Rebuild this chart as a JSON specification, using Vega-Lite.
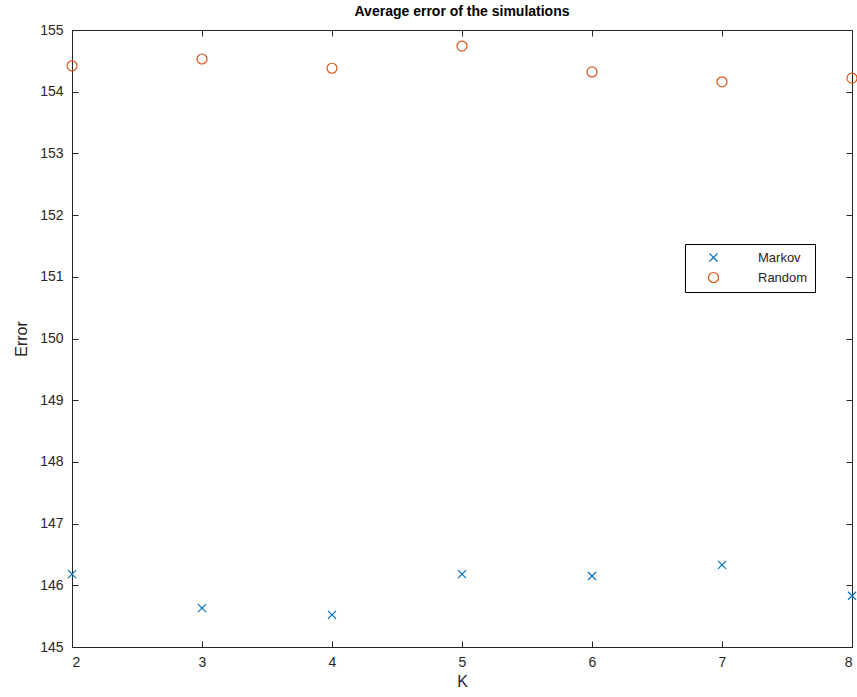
{
  "$schema": "https://vega.github.io/schema/vega-lite/v6.json",
  "autosize": {"type": "none"},
  "width": 780,
  "height": 617,
  "padding": {"left": 72, "top": 30, "right": 5, "bottom": 50},
  "background": "white",
  "config": {
    "font": "Liberation Sans",
    "view": {"stroke": "#262626", "strokeWidth": 1}
  },
  "title": {
    "text": "Average error of the simulations",
    "fontSize": 14,
    "fontWeight": "bold",
    "font": "Liberation Sans",
    "color": "black",
    "offset": 4
  },
  "data": {
    "values": [
      {"K": 2, "Error": 146.18, "Series": "Markov"},
      {"K": 3, "Error": 145.63, "Series": "Markov"},
      {"K": 4, "Error": 145.52, "Series": "Markov"},
      {"K": 5, "Error": 146.18, "Series": "Markov"},
      {"K": 6, "Error": 146.15, "Series": "Markov"},
      {"K": 7, "Error": 146.33, "Series": "Markov"},
      {"K": 8, "Error": 145.83, "Series": "Markov"},
      {"K": 2, "Error": 154.42, "Series": "Random"},
      {"K": 3, "Error": 154.53, "Series": "Random"},
      {"K": 4, "Error": 154.38, "Series": "Random"},
      {"K": 5, "Error": 154.74, "Series": "Random"},
      {"K": 6, "Error": 154.32, "Series": "Random"},
      {"K": 7, "Error": 154.16, "Series": "Random"},
      {"K": 8, "Error": 154.22, "Series": "Random"}
    ]
  },
  "layer": [
    {
      "mark": {"type": "point", "opacity": 0},
      "encoding": {
        "x": {
          "field": "K", "type": "quantitative",
          "scale": {"domain": [2, 8], "nice": false, "zero": false},
          "axis": {
            "orient": "top", "offset": -617, "values": [2, 3, 4, 5, 6, 7, 8], "grid": false, "labels": false, "title": null,
            "domain": false, "tickColor": "#262626", "tickSize": 6, "tickWidth": 1
          }
        },
        "y": {
          "field": "Error", "type": "quantitative",
          "scale": {"domain": [145, 155], "nice": false, "zero": false},
          "axis": {
            "orient": "right", "offset": -780, "values": [145, 146, 147, 148, 149, 150, 151, 152, 153, 154, 155], "grid": false, "labels": false, "title": null,
            "domain": false, "tickColor": "#262626", "tickSize": 6, "tickWidth": 1
          }
        }
      }
    },
    {
      "mark": {"type": "point", "opacity": 0},
      "encoding": {
        "x": {
          "field": "K", "type": "quantitative",
          "axis": {
            "orient": "bottom", "offset": -617, "values": [2, 3, 4, 5, 6, 7, 8], "grid": false, "labels": false, "title": null,
            "domain": false, "tickColor": "#262626", "tickSize": 6, "tickWidth": 1
          }
        },
        "y": {
          "field": "Error", "type": "quantitative",
          "axis": {
            "orient": "left", "offset": -780, "values": [145, 146, 147, 148, 149, 150, 151, 152, 153, 154, 155], "grid": false, "labels": false, "title": null,
            "domain": false, "tickColor": "#262626", "tickSize": 6, "tickWidth": 1
          }
        }
      }
    },
    {
      "mark": {"type": "point", "filled": false, "strokeWidth": 1.2, "opacity": 1, "clip": false},
      "encoding": {
        "x": {
          "field": "K", "type": "quantitative",
          "axis": {
            "orient": "bottom",
            "values": [2, 3, 4, 5, 6, 7, 8], "format": "d", "grid": false,
            "domainColor": "#262626", "ticks": false,
            "labelFontSize": 14, "labelColor": "#262626", "labelPadding": 8,
            "title": "K", "titleFontSize": 16, "titleFontWeight": "normal", "titleColor": "#262626", "titlePadding": 4
          }
        },
        "y": {
          "field": "Error", "type": "quantitative",
          "axis": {
            "orient": "left",
            "values": [145, 146, 147, 148, 149, 150, 151, 152, 153, 154, 155], "grid": false,
            "domainColor": "#262626", "ticks": false,
            "labelFontSize": 14, "labelColor": "#262626", "labelPadding": 9,
            "title": "Error", "titleFontSize": 16, "titleFontWeight": "normal", "titleColor": "#262626", "titlePadding": 10
          }
        },
        "color": {
          "field": "Series", "type": "nominal",
          "scale": {"domain": ["Markov", "Random"], "range": ["#0072BD", "#D95319"]},
          "legend": {
            "title": null, "orient": "none", "legendX": 613, "legendY": 214,
            "strokeColor": "black", "fillColor": "white",
            "padding": 7, "labelFontSize": 13, "labelColor": "#262626",
            "symbolSize": 100, "symbolStrokeWidth": 1.2, "symbolOffset": 15,
            "labelOffset": 38, "rowPadding": 5,
            "labelExpr": "datum.label + '\u2002\u2002\u2002\u2002'"
          }
        },
        "shape": {
          "field": "Series", "type": "nominal",
          "scale": {"domain": ["Markov", "Random"], "range": ["M-0.8,-0.8L0.8,0.8M-0.8,0.8L0.8,-0.8", "circle"]},
          "legend": {
            "title": null, "orient": "none", "legendX": 613, "legendY": 214,
            "strokeColor": "black", "fillColor": "white",
            "padding": 7, "labelFontSize": 13, "labelColor": "#262626",
            "symbolSize": 100, "symbolStrokeWidth": 1.2, "symbolOffset": 15,
            "labelOffset": 38, "rowPadding": 5,
            "labelExpr": "datum.label + '\u2002\u2002\u2002\u2002'"
          }
        },
        "size": {"value": 100}
      }
    }
  ],
  "resolve": {"axis": {"x": "independent", "y": "independent"}}
}
